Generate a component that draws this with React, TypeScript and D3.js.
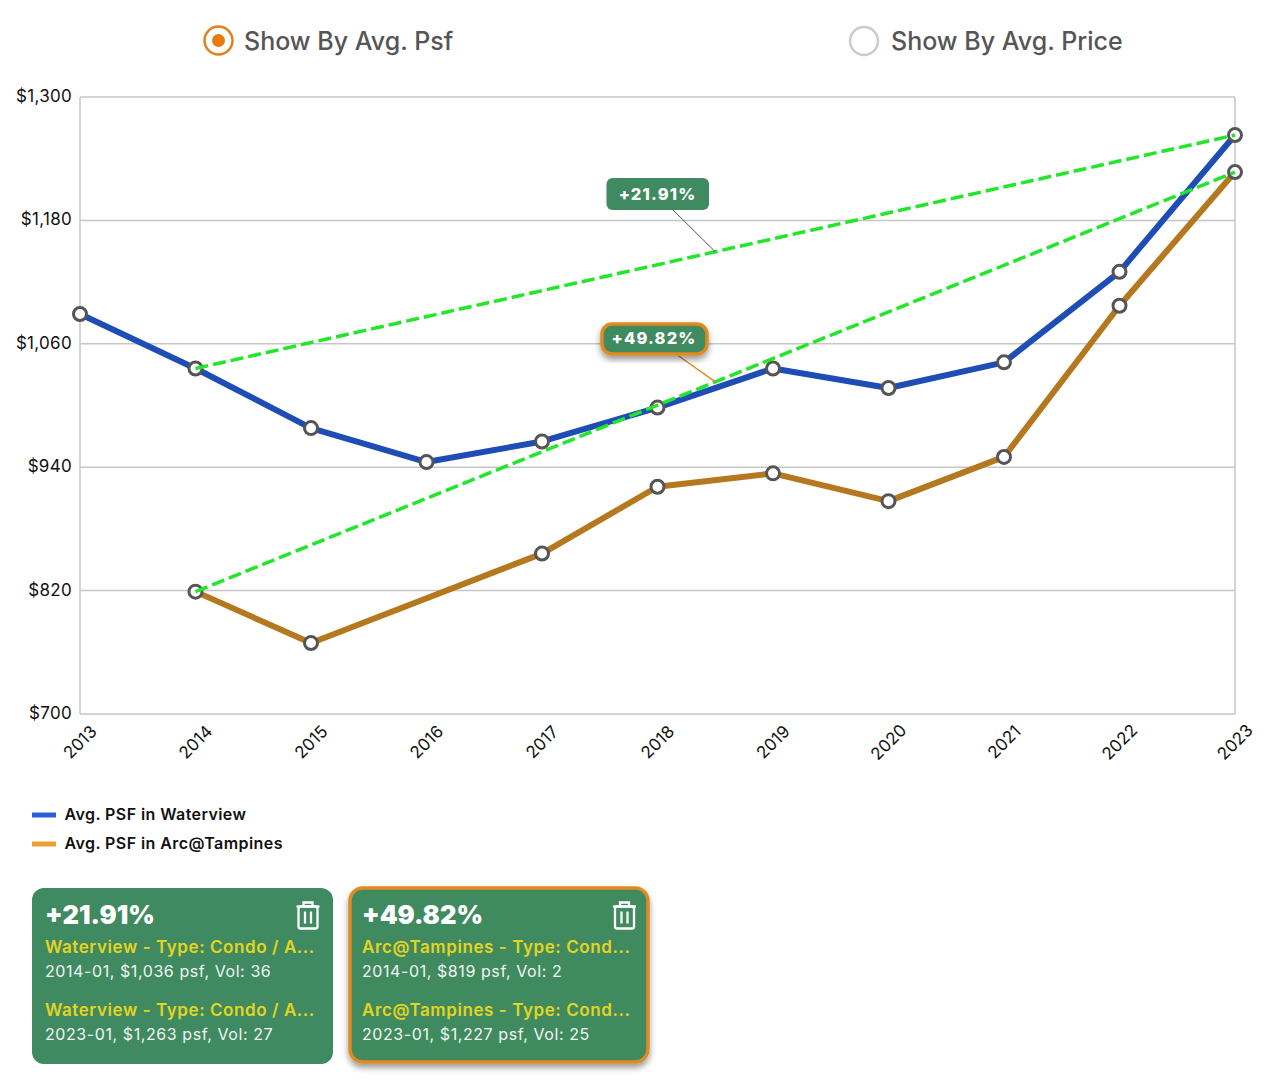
import React from 'react';
import * as d3 from 'd3';

// values
const years = [2013, 2014, 2015, 2016, 2017, 2018, 2019, 2020, 2021, 2022, 2023];
const waterview = [1089, 1036, 978, 945, 965, 998, 1036, 1017, 1042, 1130, 1263];
const arcTampines = [null, 819, 769, null, 856, 921, 934, 907, 950, 1097, 1227];
const yTicks = [700, 820, 940, 1060, 1180, 1300];
const pctLabels = ['+21.91%', '+49.82%'];
const legendNames = ['Avg. PSF in Waterview', 'Avg. PSF in Arc@Tampines'];
const cardTitles = ['Waterview - Type: Condo / A...', 'Arc@Tampines - Type: Cond...'];
const cardStart = ['2014-01, $1,036 psf, Vol: 36', '2014-01, $819 psf, Vol: 2'];
const cardEnd = ['2023-01, $1,263 psf, Vol: 27', '2023-01, $1,227 psf, Vol: 25'];

const FONT = 'Inter, "Noto Sans", sans-serif';
const GREEN = '#3f8a60';
const ORANGE = '#e08a24';
const YELLOW = '#e4d420';

const x = d3.scaleLinear().domain([2013, 2023]).range([80, 1235]);
const y = d3.scaleLinear().domain([700, 1300]).range([714, 97]);
const fmt = d3.format('$,');

type Pt = { year: number; value: number };
const toPoints = (vals: (number | null)[]): Pt[] =>
  years.map((year, i) => ({ year, value: vals[i] as number })).filter((d) => d.value != null);

const line = d3.line<Pt>().x((d) => x(d.year)).y((d) => y(d.value));

const seriesList = [
  { points: toPoints(waterview), color: '#1d4db5' },
  { points: toPoints(arcTampines), color: '#b5781e' },
];

// trend lines run between the picked points, 2014 -> 2023
const trendList = seriesList.map((s) => {
  const a = s.points.find((d) => d.year === 2014) as Pt;
  const b = s.points.find((d) => d.year === 2023) as Pt;
  return [a, b];
});

function Trash({ px, py }: { px: number; py: number }) {
  return (
    <g transform={`translate(${px},${py})`} fill="none" stroke="#fff" strokeWidth={2.3}>
      <path d="M-11.5,-8.5 H11.5" />
      <path d="M-4.5,-8.5 V-12.5 H4.5 V-8.5" />
      <rect x={-9.5} y={-8.5} width={19} height={22} rx={2} />
      <path d="M-3,-3.5 V8.5 M3,-3.5 V8.5" />
    </g>
  );
}

function Card({ i, px, w, h, active }: { i: number; px: number; w: number; h: number; active: boolean }) {
  const tx = px + (active ? 12 : 13);
  return (
    <g fontFamily={FONT}>
      <rect
        x={px}
        y={888}
        width={w}
        height={h}
        rx={active ? 13 : 12}
        fill={GREEN}
        stroke={active ? ORANGE : 'none'}
        strokeWidth={active ? 3.5 : 0}
        filter={active ? 'url(#shadow)' : undefined}
      />
      <text x={tx} y={924} fontSize={25.5} fontWeight={900} fill="#fff">{pctLabels[i]}</text>
      <text x={tx} y={953} fontSize={17} fontWeight={600} fill={YELLOW} letterSpacing={0.58}>{cardTitles[i]}</text>
      <text x={tx} y={976.5} fontSize={16} fontWeight={400} fill="#f1f6f2" letterSpacing={0.58}>{cardStart[i]}</text>
      <text x={tx} y={1016} fontSize={17} fontWeight={600} fill={YELLOW} letterSpacing={0.58}>{cardTitles[i]}</text>
      <text x={tx} y={1039.5} fontSize={16} fontWeight={400} fill="#f1f6f2" letterSpacing={0.58}>{cardEnd[i]}</text>
      <Trash px={px + w - (active ? 23.5 : 25)} py={915} />
    </g>
  );
}

export default function App() {
  const mids = trendList.map(([a, b]) => ({
    mx: (x(a.year) + x(b.year)) / 2,
    my: (y(a.value) + y(b.value)) / 2,
  }));

  return (
    <svg width={1280} height={1084} style={{ position: 'absolute', left: 0, top: 0, display: 'block' }} fontFamily={FONT}>
      <defs>
        <filter id="shadow" x="-20%" y="-20%" width="140%" height="150%">
          <feDropShadow dx={0} dy={4} stdDeviation={3} floodColor="#000" floodOpacity={0.4} />
        </filter>
      </defs>

      {/* radio toggles */}
      <circle cx={218.5} cy={40.5} r={14} fill="#fff" stroke="#e0801f" strokeWidth={2.5} />
      <circle cx={218.5} cy={40.5} r={6.5} fill="#e67a0c" />
      <text x={244} y={50} fontSize={25} fontWeight={500} fill="#555">Show By Avg. Psf</text>
      <circle cx={864} cy={41} r={14} fill="#fff" stroke="#ccc" strokeWidth={2.5} />
      <text x={891} y={50} fontSize={25} fontWeight={500} fill="#555">Show By Avg. Price</text>

      {/* grid + frame */}
      {yTicks.map((t) => (
        <g key={t}>
          <line x1={x.range()[0]} x2={x.range()[1]} y1={y(t)} y2={y(t)} stroke="#c6c6c6" strokeWidth={1.5} />
          <text x={72} y={y(t) + 5} textAnchor="end" fontSize={17} fill="#111" letterSpacing={0.3}>{fmt(t)}</text>
        </g>
      ))}
      <line x1={80} x2={80} y1={y(1300)} y2={y(700)} stroke="#c6c6c6" strokeWidth={1.5} />
      <line x1={1235} x2={1235} y1={y(1300)} y2={y(700)} stroke="#c6c6c6" strokeWidth={1.5} />

      {years.map((yr) => (
        <text
          key={yr}
          transform={`translate(${x(yr)},742) rotate(-45)`}
          textAnchor="middle"
          dy="0.35em"
          fontSize={17}
          fill="#111"
        >
          {yr}
        </text>
      ))}

      {/* series */}
      {seriesList.map((s, i) => (
        <path key={i} d={line(s.points) as string} fill="none" stroke={s.color} strokeWidth={6} strokeLinejoin="round" />
      ))}
      {seriesList.map((s, i) =>
        s.points.map((d) => (
          <circle key={`${i}-${d.year}`} cx={x(d.year)} cy={y(d.value)} r={6.5} fill="#fff" stroke="#555" strokeWidth={3} />
        ))
      )}
      {trendList.map((t, i) => (
        <path key={i} d={line(t) as string} fill="none" stroke="#22e62a" strokeWidth={3.5} strokeDasharray="13 5" />
      ))}

      {/* percent callouts */}
      <line x1={673} y1={210} x2={mids[0].mx} y2={mids[0].my} stroke="#555" strokeWidth={1} />
      <rect x={606.5} y={178} width={102.5} height={32} rx={6} fill={GREEN} />
      <text x={657.5} y={200} textAnchor="middle" fontSize={16.5} fontWeight={800} fill="#fff" letterSpacing={1.15}>{pctLabels[0]}</text>

      <line x1={676} y1={354} x2={mids[1].mx} y2={mids[1].my} stroke={ORANGE} strokeWidth={1.5} />
      <rect x={602} y={324} width={105} height={30} rx={10} fill={GREEN} stroke={ORANGE} strokeWidth={3.5} filter="url(#shadow)" />
      <text x={654} y={344} textAnchor="middle" fontSize={16.5} fontWeight={800} fill="#fff" letterSpacing={1.15}>{pctLabels[1]}</text>

      {/* legend */}
      {legendNames.map((name, i) => (
        <g key={name}>
          <line x1={32} x2={56} y1={815 + i * 29} y2={815 + i * 29} stroke={i === 0 ? '#2a60d8' : '#e8a030'} strokeWidth={5} />
          <text x={64.5} y={820 + i * 29} fontSize={16} fontWeight={600} fill="#111" letterSpacing={0.42}>{name}</text>
        </g>
      ))}

      <Card i={0} px={32} w={301} h={176} active={false} />
      <Card i={1} px={350} w={298} h={174} active />
    </svg>
  );
}
